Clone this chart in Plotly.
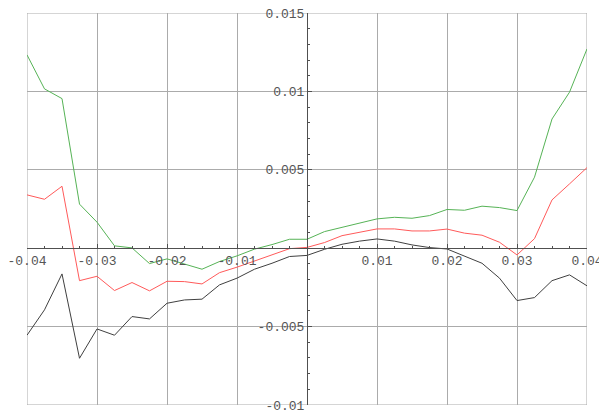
import plotly.graph_objects as go

# Sample positions (step 0.0025 from -0.04 to 0.04)
x_vals = [round(-0.04 + 0.0025 * i, 4) for i in range(33)]

# Series values, in units of 1e-3
upper = [12.33, 10.16, 9.54, 2.81, 1.66, 0.15, 0.02, -0.98, -0.68, -1.00, -1.34,
         -0.85, -0.49, -0.06, 0.23, 0.57, 0.57, 1.06, 1.34, 1.59, 1.87, 1.97,
         1.91, 2.08, 2.47, 2.42, 2.68, 2.59, 2.40, 4.53, 8.24, 9.95, 12.71]
middle = [3.40, 3.12, 3.95, -2.07, -1.79, -2.70, -2.19, -2.72, -2.11, -2.13, -2.28,
          -1.56, -1.21, -0.81, -0.41, -0.03, 0.05, 0.36, 0.80, 1.02, 1.23, 1.23,
          1.10, 1.10, 1.22, 0.96, 0.83, 0.38, -0.43, 0.61, 3.08, 4.10, 5.14]
lower = [-5.55, -3.93, -1.64, -7.02, -5.15, -5.55, -4.36, -4.51, -3.51, -3.30, -3.25,
         -2.34, -1.91, -1.34, -0.96, -0.53, -0.46, -0.07, 0.25, 0.45, 0.59, 0.45,
         0.21, 0.04, -0.05, -0.53, -0.96, -1.91, -3.34, -3.15, -2.07, -1.70, -2.40]

x_ticks = [-0.04, -0.03, -0.02, -0.01, 0.01, 0.02, 0.03, 0.04]
x_tick_text = ["-0.04", "-0.03", "-0.02", "-0.01", "0.01", "0.02", "0.03", "0.04"]
y_ticks = [-0.01, -0.005, 0.005, 0.01, 0.015]
y_tick_text = ["-0.01", "-0.005", "0.005", "0.01", "0.015"]

x_range = [-0.04, 0.04]
y_range = [-0.01, 0.015]

series = [
    (upper, "#56b356"),
    (middle, "#ff5a5a"),
    (lower, "#404040"),
]

fig = go.Figure()
for vals, color in series:
    fig.add_trace(go.Scatter(
        x=x_vals, y=[v * 1e-3 for v in vals], mode="lines",
        line=dict(color=color, width=1), showlegend=False, hoverinfo="skip",
    ))

# Frame around the plotting region
fig.add_shape(type="rect", xref="x", yref="y",
              x0=x_range[0], x1=x_range[1], y0=y_range[0], y1=y_range[1],
              line=dict(color="#ababab", width=1), layer="below")

tick_font = dict(family="Liberation Mono", size=13, color="#555555")
axis_col = "#505050"

fig.update_layout(
    width=599, height=410,
    margin=dict(l=27, r=12, t=13, b=5),
    paper_bgcolor="white", plot_bgcolor="white",
    xaxis=dict(
        range=x_range, tickmode="array", tickvals=x_ticks, ticktext=x_tick_text,
        showgrid=True, gridcolor="#ababab", gridwidth=1, zeroline=False,
        showline=True, linecolor=axis_col, linewidth=1,
        anchor="free", position=(0 - y_range[0]) / (y_range[1] - y_range[0]),
        ticks="inside", ticklen=4, tickcolor=axis_col, tickfont=tick_font,
        ticklabeloverflow="allow", automargin=False,
        minor=dict(ticks="inside", ticklen=2, tickcolor=axis_col,
                   tick0=0, dtick=0.0025, showgrid=False),
    ),
    yaxis=dict(
        range=y_range, tickmode="array", tickvals=y_ticks, ticktext=y_tick_text,
        showgrid=True, gridcolor="#ababab", gridwidth=1, zeroline=False,
        showline=True, linecolor=axis_col, linewidth=1,
        anchor="free", position=(0 - x_range[0]) / (x_range[1] - x_range[0]),
        side="left",
        ticks="inside", ticklen=4, tickcolor=axis_col, tickfont=tick_font,
        ticklabeloverflow="allow", automargin=False,
        minor=dict(ticks="inside", ticklen=2, tickcolor=axis_col,
                   tick0=0, dtick=0.001, showgrid=False),
    ),
)

fig.write_html("out.html")
